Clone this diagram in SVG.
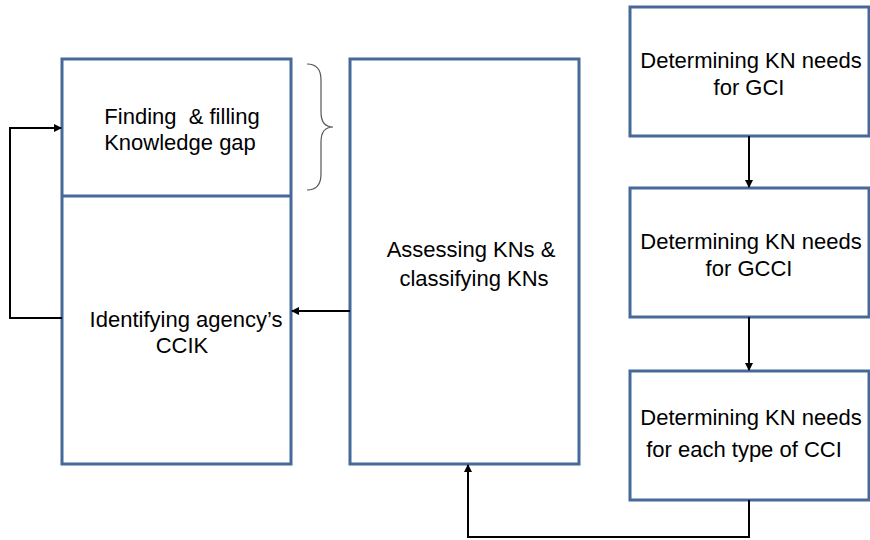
<svg xmlns="http://www.w3.org/2000/svg" width="870" height="540" viewBox="0 0 870 540">
<style>
.box{fill:#fff;stroke:#46699a;stroke-width:3}
.t{font-family:"Liberation Sans",Arial,sans-serif;font-size:22px;fill:#000}
.c{fill:none;stroke:#000;stroke-width:2}
</style>
<defs>
<marker id="ah" markerWidth="8" markerHeight="8" refX="7" refY="4" orient="auto" markerUnits="userSpaceOnUse">
<path d="M0,0 L8,4 L0,8 Z" fill="#000"/>
</marker>
</defs>
<rect width="870" height="540" fill="#fff"/>
<g id="left">
<rect class="box" x="62" y="59" width="229" height="405"/>
<line x1="62" y1="196" x2="291" y2="196" stroke="#46699a" stroke-width="3"/>
<text class="t" x="182" y="124" text-anchor="middle" xml:space="preserve">Finding  &amp; filling</text>
<text class="t" x="180" y="150" text-anchor="middle">Knowledge gap</text>
<text class="t" x="186" y="327" text-anchor="middle">Identifying agency’s</text>
<text class="t" x="182" y="353" text-anchor="middle">CCIK</text>
</g>
<g id="brace">
<path d="M307,64 Q321,64 321,80 L321,112 Q321,127 333,127 Q321,127 321,142 L321,174 Q321,190 307,190" fill="none" stroke="#555" stroke-width="1.2"/>
</g>
<g id="middle">
<rect class="box" x="350" y="59" width="229" height="405"/>
<text class="t" x="471" y="257" text-anchor="middle">Assessing KNs &amp;</text>
<text class="t" x="474" y="286" text-anchor="middle">classifying KNs</text>
</g>
<g id="r1">
<rect class="box" x="630" y="7" width="239" height="129"/>
<text class="t" x="751" y="68" text-anchor="middle">Determining KN needs</text>
<text class="t" x="749" y="95" text-anchor="middle">for GCI</text>
</g>
<g id="r2">
<rect class="box" x="630" y="188" width="239" height="129"/>
<text class="t" x="751" y="249" text-anchor="middle">Determining KN needs</text>
<text class="t" x="749" y="276" text-anchor="middle">for GCCI</text>
</g>
<g id="r3">
<rect class="box" x="630" y="371" width="239" height="129"/>
<text class="t" x="751" y="425" text-anchor="middle">Determining KN needs</text>
<text class="t" x="744" y="457" text-anchor="middle">for each type of CCI</text>
</g>
<g id="connectors">
<line class="c" x1="749" y1="136" x2="749" y2="187" marker-end="url(#ah)"/>
<line class="c" x1="749" y1="317" x2="749" y2="370" marker-end="url(#ah)"/>
<polyline class="c" points="749,500 749,537 468,537 468,465" marker-end="url(#ah)"/>
<line class="c" x1="350" y1="311" x2="292" y2="311" marker-end="url(#ah)"/>
<polyline class="c" points="62,318 10,318 10,128 61,128" marker-end="url(#ah)"/>
</g>
</svg>
